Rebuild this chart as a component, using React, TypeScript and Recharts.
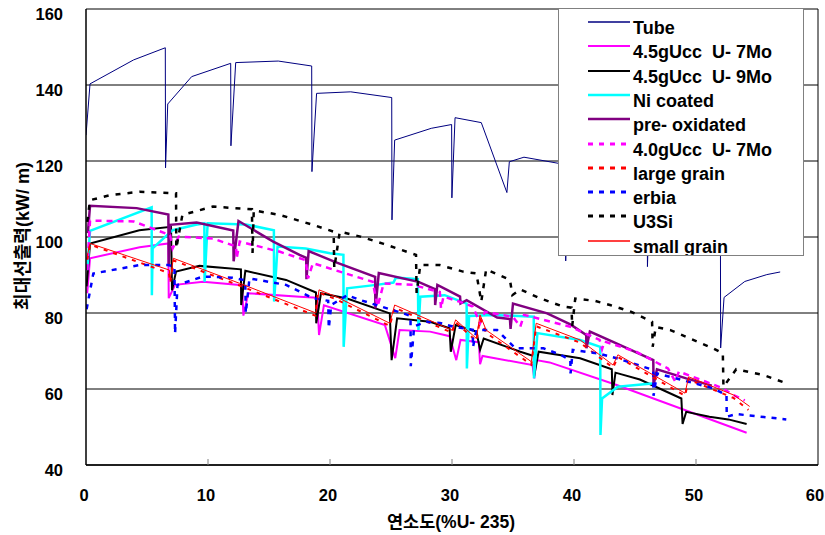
import React from 'react';
import { LineChart, Line, XAxis, YAxis, CartesianGrid, ReferenceLine } from 'recharts';

const xTicks = [0, 10, 20, 30, 40, 50, 60];
const yTicks = [40, 60, 80, 100, 120, 140, 160];

const tube = [
  [0, 126.8], [0.33, 140.3], [3.9, 146.6], [6.5, 149.8], [6.52, 118.2], [6.7, 135], [8.66, 142.2],
  [11.86, 145.7], [11.88, 124], [12.27, 145.9], [15.76, 146.3], [18.5, 145.0], [18.52, 117.2],
  [18.9, 137.8], [21.7, 138.2], [25.06, 136.7], [25.08, 104.5], [25.3, 125.5], [28.3, 128.6],
  [29.97, 129.6], [29.99, 110.3], [30.25, 131.4], [32.4, 130.1], [34.5, 111.7], [34.7, 119.8],
  [35.9, 121], [38.7, 119.4], [39.3, 119], [39.32, 93.7], [39.5, 118], [46.0, 113], [46.02, 92.2],
  [46.2, 112], [52.0, 104], [52.02, 70.8], [52.3, 84.1], [54.0, 88.3], [55.8, 90.1], [56.9, 90.8],
];

const u7mo = [
  [0.1, 85.2], [0.33, 94.4], [4.4, 97.3], [6.75, 98.3], [6.78, 83.9], [7.3, 87.4], [9.6, 88.2],
  [12.8, 87.3], [12.9, 79.3], [13.3, 85.2], [17.5, 84.3], [18.95, 84.0], [19.1, 74.2], [19.5, 82],
  [24.5, 76.8], [25.35, 68.1], [25.7, 75.5], [28.2, 75.1], [29.8, 73.9], [30.35, 67.6], [30.7, 72.9],
  [32.2, 72.3], [32.3, 66.5], [32.5, 68.7], [36.6, 66.3], [36.75, 62.8], [36.9, 67.6], [38.0, 67.0],
  [43.5, 61.05], [54.15, 48.5],
];

const u9mo = [
  [0.05, 87], [0.33, 98.3], [4.37, 101.8], [6.97, 102.7], [7.05, 86], [7.38, 90.9], [9.3, 92.4],
  [12.7, 91.5], [12.72, 82.1], [13.06, 91.1], [16.4, 88.7], [18.85, 85.4], [18.87, 77.3],
  [19.26, 85.2], [21.4, 83.8], [24.9, 79.9], [25.05, 67.6], [25.5, 78.6], [28.2, 77.7], [29.8, 76],
  [29.9, 69.8], [30.3, 76.8], [32.0, 75.1], [32.3, 70.3], [32.6, 73.3], [35.6, 69.8], [36.7, 68.7],
  [36.72, 63.2], [37.1, 69.8], [40.5, 68.1], [43.1, 65.2], [43.15, 58.4], [43.4, 64.3], [45.4, 62.5],
  [48.8, 57.5], [48.9, 50.8], [49.2, 54], [51.1, 52.7], [52.65, 52], [54.15, 50.8],
];

const niCoated = [
  [0.1, 91.3], [0.33, 101.6], [5.38, 107.8], [5.4, 84.7], [5.46, 97], [7.1, 101.8], [9.0, 103.2],
  [9.7, 103.6], [9.72, 88.2], [9.97, 103.6], [13.1, 103.3], [15.4, 101.8], [15.42, 83], [15.7, 97.5],
  [18.0, 97], [20.0, 95.7], [21.1, 95.3], [21.12, 71.1], [21.4, 86.5], [23.8, 87.4], [25.2, 88],
  [25.4, 89.3], [27.2, 88.9], [27.25, 75.5], [27.4, 84.3], [29.4, 84.7], [31.2, 82.5], [31.22, 65.4],
  [31.4, 79.2], [33.4, 79.5], [36.7, 79], [36.72, 62.8], [37.0, 74.7], [40.5, 72.9], [42.15, 71.1],
  [42.17, 47.9], [42.3, 57.5], [43.6, 60.6], [46.6, 61.5],
];

const preOx = [
  [0.15, 101], [0.33, 108.2], [4.15, 107.6], [6.75, 105.9], [6.78, 92.6], [6.9, 103.2], [9.07, 103.8],
  [12.07, 101.7], [12.1, 93.6], [12.5, 104.2], [15.35, 98.8], [17.5, 95.3], [18.05, 94.5],
  [18.07, 88.9], [18.25, 96.3], [20.5, 93.3], [23.7, 89.5], [23.72, 81.2], [24.0, 90.5], [27.25, 88.2],
  [28.6, 86.3], [28.62, 82.1], [28.8, 87.4], [30.66, 84.3], [30.7, 82.5], [31.2, 83.4], [33.7, 78.8],
  [34.75, 78.4], [34.8, 75.8], [35.0, 82.5], [37.8, 79.9], [39.7, 77.0], [41.0, 74.2], [41.02, 70.7],
  [41.3, 75.1], [43.2, 72.4], [46.5, 67.6], [46.52, 61], [46.8, 65.2], [49.2, 62.8], [51.3, 60.9],
];

const u7mo40 = [
  [0.1, 91.3], [0.33, 104.3], [3.9, 104.1], [6.9, 100.5], [7.1, 97], [7.6, 100.1], [10.4, 99.6],
  [12.3, 97.5], [12.35, 94.4], [12.6, 98.8], [15.9, 96.1], [18.0, 93.9], [18.2, 89.1], [18.6, 93.1],
  [23.5, 88.2], [23.9, 81.7], [24.4, 87.8], [26.8, 87.4], [29.0, 85.5], [29.1, 81.2], [29.3, 84.3],
  [30.6, 83], [31.7, 81.7], [32.3, 77.3], [32.7, 80.3], [35.0, 79], [35.6, 76.4], [35.9, 79.5],
  [39.7, 76.4], [42.1, 72.9], [42.3, 70.5], [42.5, 72.5], [45.1, 69.8], [47.7, 65.4], [48.3, 62],
  [48.6, 64.6], [52.2, 60.2], [53.0, 58.5], [54.0, 57.0],
];

const largeGrain = [
  [0.1, 94], [0.33, 98], [6.8, 90.5], [6.9, 88], [7.2, 93.8], [12.6, 87.2], [18.8, 79.3], [19.0, 85.5],
  [20.5, 83.6], [24.9, 76.6], [25.3, 81.4], [30.0, 74.8], [30.3, 77.6], [32.0, 72.6], [32.3, 78.5],
  [32.8, 74.8], [36.5, 66.4], [36.9, 76.5], [40.5, 72.2], [43.2, 65.6], [43.6, 68.4], [49.1, 58.2],
  [49.4, 62.5], [53.1, 57.6], [54.3, 54.5],
];

const erbia = [
  [0.05, 81], [0.6, 90.4], [4.37, 92.6], [6.7, 92.6], [7.25, 92.3], [7.3, 74.6], [7.5, 87.4],
  [9.6, 89.6], [12.0, 89.3], [13.05, 88.6], [13.1, 80], [13.4, 89.1], [16.4, 87.4], [18.6, 83.9],
  [19.85, 83.2], [19.9, 76], [20.1, 82.1], [21.4, 84.7], [22.5, 83.4], [26.0, 79.9], [26.6, 79.2],
  [26.62, 66], [26.9, 76.5], [27.9, 77.7], [29.0, 77.4], [30.1, 76.4], [31.7, 75.6], [31.72, 71],
  [32.0, 75.5], [33.7, 75.5], [34.5, 72.9], [35.2, 70.7], [37.5, 70.7], [38.9, 69], [39.7, 67.6],
  [39.72, 64.1], [39.9, 70.3], [41.9, 69.4], [43.5, 68.1], [46.5, 65], [46.52, 58.2], [46.8, 64.1],
  [51.4, 60.2], [52.5, 58.4], [52.52, 52.7], [53.3, 53.4], [57.4, 52],
];

const u3si = [
  [0.1, 104], [0.33, 109.7], [1.97, 111], [4.4, 111.9], [7.38, 111.5], [7.4, 97], [7.9, 105.8],
  [10.4, 108], [13.6, 107.3], [13.65, 95.8], [13.75, 107], [15.9, 105.8], [18.6, 103.2], [20.3, 101.4],
  [20.35, 91.8], [20.8, 101.4], [22.5, 100.1], [24.4, 98.2], [26.3, 96.1], [27.05, 95.3], [27.1, 85.3],
  [27.4, 92.6], [29.0, 92.6], [30.9, 90.9], [32.0, 90.4], [32.4, 83], [32.8, 91.5], [34.75, 88.7],
  [34.95, 84.7], [35.6, 86.2], [37.2, 83.9], [39.1, 81.7], [39.8, 81.4], [39.85, 76.5], [40.1, 83.8],
  [41.7, 83.2], [42.95, 82.1], [44.7, 80.3], [46.4, 77.7], [46.45, 71.1], [46.7, 76.3], [47.9, 75.5],
  [49.5, 73.3], [51.4, 70.7], [52.2, 69.4], [52.25, 60.6], [53.3, 65.2], [55.5, 63.7], [57.4, 61.5],
];

const smallGrain = [
  [0.1, 95], [0.33, 98.3], [6.83, 91.3], [6.9, 88.7], [7.16, 94.4], [12.6, 87.8], [18.85, 80],
  [19.1, 86.1], [20.5, 84.3], [24.9, 77.3], [25.3, 82.1], [30.0, 75.5], [30.3, 78.2], [32.0, 73.3],
  [32.3, 79.5], [32.8, 75.5], [36.5, 67.2], [36.9, 77.3], [40.5, 72.9], [43.2, 66.3], [43.6, 69],
  [49.1, 58.9], [49.4, 63.2], [53.1, 58.4], [54.4, 55.4],
];

const toPts = (a: number[][]) => a.map(([x, y]) => ({ x, y }));

const series = [
  { name: 'Tube', data: tube, color: '#000080', width: 1, dash: undefined as string | undefined },
  { name: '4.5gUcc  U- 7Mo', data: u7mo, color: '#FF00FF', width: 2, dash: undefined },
  { name: '4.5gUcc  U- 9Mo', data: u9mo, color: '#000000', width: 2, dash: undefined },
  { name: 'Ni coated', data: niCoated, color: '#00FFFF', width: 2.5, dash: undefined },
  { name: 'pre- oxidated', data: preOx, color: '#800080', width: 2.5, dash: undefined },
  { name: '4.0gUcc  U- 7Mo', data: u7mo40, color: '#FF00FF', width: 2.5, dash: '6 5' },
  { name: 'large grain', data: largeGrain, color: '#FF0000', width: 2, dash: '4 6' },
  { name: 'erbia', data: erbia, color: '#0000FF', width: 2.5, dash: '5 6' },
  { name: 'U3Si', data: u3si, color: '#000000', width: 2.5, dash: '5 7' },
  { name: 'small grain', data: smallGrain, color: '#FF0000', width: 1, dash: undefined },
];

const FONT = '"Liberation Sans", Arial, "Noto Sans CJK KR", sans-serif';

const YTick = (props: any) => {
  const { x, y, payload } = props;
  return (
    <text x={x} y={y + 5} dy="0.35em" textAnchor="end" fontFamily={FONT} fontWeight="bold" fontSize={16.5} fill="#000">
      {payload.value}
    </text>
  );
};

const XTick = (props: any) => {
  const { x, y, payload } = props;
  const v = payload.value;
  return (
    <g>
      {v > 0 && v < 60 && <line x1={x} x2={x} y1={y} y2={y - 6} stroke="#808080" strokeWidth={1} />}
      <text x={x - 2} y={y + 36} textAnchor="middle" fontFamily={FONT} fontWeight="bold" fontSize={16.5} fill="#000">
        {v}
      </text>
    </g>
  );
};

const YLabel = () => (
  <text x={23} y={236} transform="rotate(-90 23 236)" textAnchor="middle" dominantBaseline="central"
    fontFamily={FONT} fontWeight="bold" fontSize={18} fill="#000">
    최대선출력(kW/ m)
  </text>
);

const XLabel = () => (
  <text x={451} y={522} textAnchor="middle" dominantBaseline="central"
    fontFamily={FONT} fontWeight="bold" fontSize={17.5} fill="#000">
    연소도(%U- 235)
  </text>
);

const LegendBox = () => (
  <div style={{
    position: 'absolute', left: 558, top: 8, width: 246, height: 248, boxSizing: 'border-box',
    background: '#fff', border: '1px solid #808080', overflow: 'hidden', fontFamily: FONT,
  }}>
    {series.map((s, i) => (
      <div key={s.name}>
        <svg style={{ position: 'absolute', left: 29, top: 9 + i * 24.3 }} width={42} height={8}>
          <line x1={0} x2={42} y1={4} y2={4} stroke={s.color} strokeWidth={s.dash ? 3 : Math.max(s.width, 1.5)}
            strokeDasharray={s.dash ? '5 6' : undefined} />
        </svg>
        <div style={{
          position: 'absolute', left: 74, top: 7 + i * 24.3, height: 24, lineHeight: '24px',
          fontSize: 18, fontWeight: 'bold', color: '#000', whiteSpace: 'pre',
        }}>{s.name}</div>
      </div>
    ))}
  </div>
);

export default function App() {
  return (
    <div style={{ position: 'absolute', left: 0, top: 0, width: 825, height: 535, background: '#fff' }}>
      <LineChart width={825} height={535} margin={{ top: 9, right: 7, left: 0, bottom: 0 }}>
        <CartesianGrid vertical={false} stroke="#000" strokeWidth={1} />
        <XAxis type="number" dataKey="x" domain={[0, 60]} ticks={xTicks} height={70}
          axisLine={{ stroke: '#000', strokeWidth: 1.5 }} tickLine={false} tickSize={0} tickMargin={0}
          tick={<XTick />} label={<XLabel />} allowDataOverflow />
        <YAxis type="number" domain={[40, 160]} ticks={yTicks} width={86}
          axisLine={{ stroke: '#000', strokeWidth: 1.5 }} tickLine={false} tickSize={6} tickMargin={17}
          tick={<YTick />} label={<YLabel />} allowDataOverflow />
        <ReferenceLine x={60} stroke="#000" strokeWidth={1} />
        {series.map((s) => (
          <Line key={s.name} data={toPts(s.data)} dataKey="y" type="linear" stroke={s.color}
            strokeWidth={s.width} strokeDasharray={s.dash} dot={false} activeDot={false}
            isAnimationActive={false} legendType="none" />
        ))}
      </LineChart>
      <LegendBox />
    </div>
  );
}
